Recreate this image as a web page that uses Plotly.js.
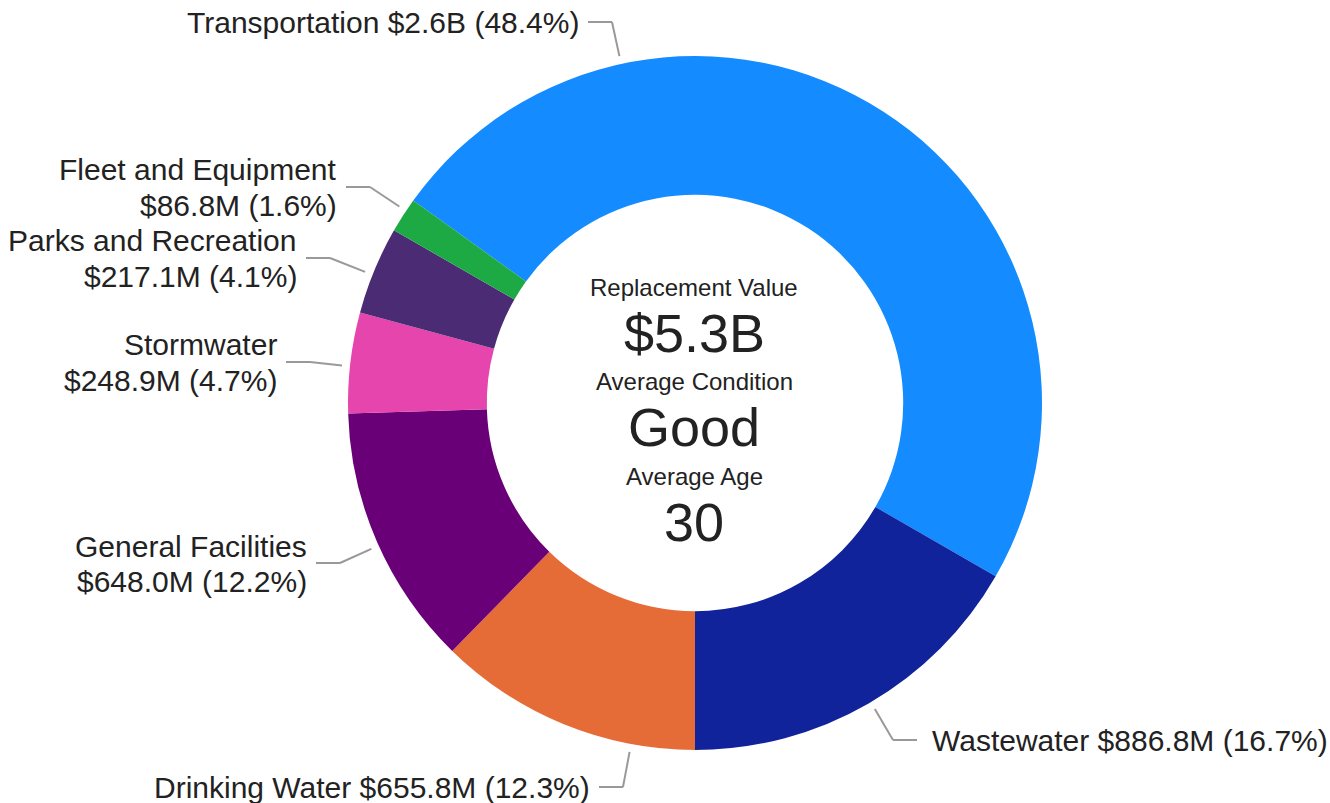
<!DOCTYPE html>
<html>
<head>
<meta charset="utf-8">
<script src="https://cdn.plot.ly/plotly-3.0.1.min.js"></script>
<style>
  html, body { margin: 0; padding: 0; background: #fff; }
  #chart { width: 1330px; height: 803px; }
</style>
</head>
<body>
<div id="chart"></div>
<script>
// asset classes, replacement value in $M
var categories = ['Transportation', 'Wastewater', 'Drinking Water', 'General Facilities',
                  'Stormwater', 'Parks and Recreation', 'Fleet and Equipment'];
var values = [2573.3, 886.8, 655.8, 648.0, 248.9, 217.1, 86.8];
var colors = ['#148cff', '#10239a', '#e56b37', '#6a0078', '#e545ac', '#4b2c74', '#1daa44'];

var centerLabels = ['Replacement Value', 'Average Condition', 'Average Age'];
var centerValues = ['$5.3B', 'Good', '30'];

var W = 1330, H = 803;
var cx = 695, cy = 403, R = 347;
var FONT = 'Liberation Sans, Arial, sans-serif';

// where each label's leader line bends (px), which side the text sits, one or two lines
var labelSpots = [
    {x: 612, y: 22, side: 'left', wrap: false},
    {x: 893, y: 740, side: 'right', wrap: false},
    {x: 623, y: 787, side: 'left', wrap: false},
    {x: 340, y: 563, side: 'left', wrap: true},
    {x: 310, y: 362, side: 'left', wrap: true},
    {x: 330, y: 258, side: 'left', wrap: true},
    {x: 370, y: 187, side: 'left', wrap: true}
];

function px(x) { return x / W; }
function py(y) { return 1 - y / H; }

function money(v) {
    if (v >= 1000) return '$' + (v / 1000).toFixed(1) + 'B';
    return '$' + v.toFixed(1) + 'M';
}

var total = values.reduce(function (a, b) { return a + b; }, 0);
// first two slices end at six o'clock
var rotation = 180 - (values[0] + values[1]) / total * 360;

var trace = {
    type: 'pie',
    labels: categories,
    values: values,
    sort: false,
    direction: 'clockwise',
    rotation: rotation,
    hole: 0.6,
    textinfo: 'none',
    hoverinfo: 'none',
    marker: { colors: colors, line: { width: 0 } },
    domain: { x: [px(cx - R), px(cx + R)], y: [py(cy + R), py(cy - R)] }
};

var annotations = [];
var shapes = [];

function addText(x, y, txt, side) {
    annotations.push({
        xref: 'paper', yref: 'paper', x: px(x), y: py(y),
        xanchor: side === 'left' ? 'right' : 'left', yanchor: 'middle',
        text: txt, showarrow: false,
        font: {family: FONT, size: 30, color: '#222'}
    });
}

for (var i = 0; i < categories.length; i++) {
    var s = labelSpots[i];
    var pct = (values[i] / total * 100).toFixed(1) + '%';
    var tail = money(values[i]) + ' (' + pct + ')';
    var ang = Math.atan2(s.x - cx, -(s.y - cy));
    var r0 = R + 8;
    var x0 = cx + r0 * Math.sin(ang), y0 = cy - r0 * Math.cos(ang);
    var dir = s.side === 'left' ? -1 : 1;
    shapes.push({type: 'line', xref: 'paper', yref: 'paper',
        x0: px(x0), y0: py(y0), x1: px(s.x), y1: py(s.y),
        line: {color: '#999', width: 2}});
    shapes.push({type: 'line', xref: 'paper', yref: 'paper',
        x0: px(s.x), y0: py(s.y), x1: px(s.x + dir * 24), y1: py(s.y),
        line: {color: '#999', width: 2}});
    var tx = s.x + dir * (s.side === 'left' ? 31 : 37);
    if (s.wrap) {
        addText(tx, s.y - 17, categories[i], s.side);
        addText(tx, s.y + 18, tail, s.side);
    } else {
        addText(tx, s.y, categories[i] + ' ' + tail, s.side);
    }
}

var centerY = [287, 381, 476];
for (var j = 0; j < centerLabels.length; j++) {
    annotations.push({xref: 'paper', yref: 'paper', x: px(694), y: py(centerY[j]),
        xanchor: 'center', yanchor: 'middle', showarrow: false, text: centerLabels[j],
        font: {family: FONT, size: 24, color: '#222'}});
    annotations.push({xref: 'paper', yref: 'paper', x: px(694), y: py(centerY[j] + 46),
        xanchor: 'center', yanchor: 'middle', showarrow: false, text: centerValues[j],
        font: {family: FONT, size: 54, color: '#222'}});
}

var layout = {
    width: W, height: H,
    margin: {l: 0, r: 0, t: 0, b: 0},
    showlegend: false,
    paper_bgcolor: '#fff',
    annotations: annotations,
    shapes: shapes
};

Plotly.newPlot('chart', [trace], layout, {displayModeBar: false, staticPlot: true});
</script>
</body>
</html>
